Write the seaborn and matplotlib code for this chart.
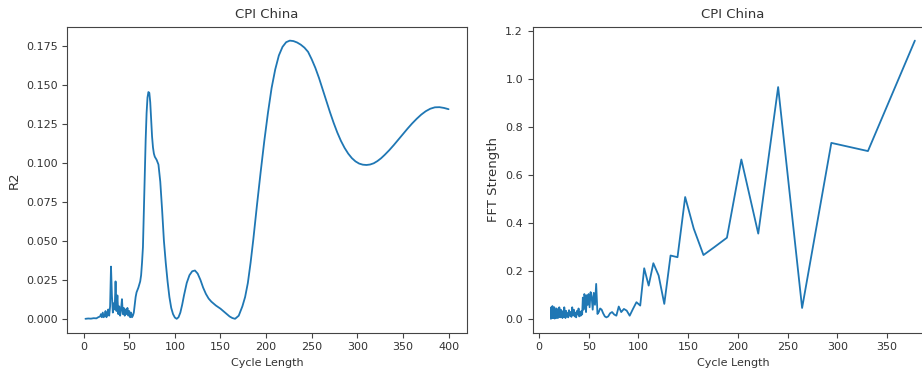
import matplotlib
matplotlib.use("Agg")
import matplotlib.pyplot as plt
import seaborn as sns
import pandas as pd

# ---------------- data: left panel (R2 vs cycle length) ----------------
r2_cycle = [2, 5, 8, 11, 14, 16, 18, 19, 20, 21, 22, 23, 24, 25, 26, 27, 28,
            29, 30, 31, 32, 33, 34, 35, 36, 37, 38, 39, 40, 41, 42, 43, 44, 45,
            46, 47, 48, 49, 50, 51, 52, 53, 54, 55, 56, 57, 58, 60, 62, 63, 64,
            65, 66, 67, 68, 69, 70, 71, 72, 73, 74, 75, 76, 77, 78, 80, 82, 84,
            86, 88, 90, 92, 94, 96, 98, 100, 102, 104, 106, 108, 110, 113, 116,
            119, 122, 125, 128, 131, 134, 137, 140, 145, 150, 155, 160, 163,
            166, 170, 174, 177, 180, 183, 186, 190, 194, 198, 202, 206, 210,
            214, 218, 222, 226, 230, 234, 238, 242, 246, 250, 254, 258, 262,
            266, 270, 274, 278, 282, 286, 290, 294, 298, 302, 306, 310, 314,
            318, 322, 326, 330, 335, 340, 345, 350, 355, 360, 365, 370, 375,
            380, 385, 390, 395, 400]
r2_value = [0.0, 0.0002, 0.0001, 0.0004, 0.0003, 0.001, 0.0015, 0.003, 0.001,
            0.004, 0.001, 0.002, 0.005, 0.001, 0.003, 0.006, 0.002,
            0.008, 0.0335, 0.015, 0.004, 0.010, 0.006, 0.024, 0.005, 0.015,
            0.003, 0.008, 0.002, 0.006, 0.0126, 0.003, 0.007, 0.002,
            0.006, 0.003, 0.007, 0.002, 0.005, 0.001, 0.004, 0.001, 0.002,
            0.004, 0.009, 0.014, 0.017, 0.020, 0.024, 0.028, 0.036,
            0.046, 0.068, 0.092, 0.115, 0.132, 0.142, 0.1455, 0.145, 0.139,
            0.128, 0.117, 0.110, 0.106, 0.104, 0.102, 0.099, 0.088,
            0.070, 0.050, 0.036, 0.024, 0.014, 0.007, 0.003, 0.0008, 0.0,
            0.001, 0.004, 0.009, 0.015, 0.023, 0.028,
            0.0305, 0.031, 0.029, 0.025, 0.020, 0.016, 0.013, 0.011, 0.0085,
            0.0065, 0.004, 0.0015, 0.0005,
            0.0, 0.002, 0.008, 0.014, 0.023, 0.036, 0.051, 0.073, 0.094,
            0.114, 0.132, 0.148, 0.160,
            0.169, 0.1745, 0.1775, 0.1785, 0.1782, 0.1773, 0.1759, 0.1740,
            0.1713, 0.1665, 0.1610, 0.1545, 0.1472,
            0.1398, 0.1326, 0.1258, 0.1196, 0.1142, 0.1097, 0.1060, 0.1031,
            0.1010, 0.0996, 0.0989, 0.0987, 0.0990,
            0.0998, 0.1012, 0.1030, 0.1052, 0.1082, 0.1115, 0.1150, 0.1185,
            0.1220, 0.1253, 0.1283, 0.1310, 0.1332,
            0.1348, 0.1357, 0.1358, 0.1353, 0.1345]

# ---------------- data: right panel (FFT strength vs cycle length) ----------------
fft_cycle = [378.0, 330.8, 294.0, 264.6, 240.5, 220.5, 203.5, 189.0, 176.4,
             165.4, 155.6, 147.0, 139.3, 132.3, 126.0, 120.3, 115.0, 110.3,
             105.8, 101.8, 98.0, 94.5, 91.2, 88.2, 85.4, 82.7, 80.2, 77.8,
             75.6, 73.5, 71.5, 69.6, 67.8, 66.2, 64.5, 63.0, 61.5, 60.1, 58.8,
             57.5, 56.3, 55.1, 54.0, 52.9, 51.9, 50.9, 49.9, 49.0, 48.1, 47.3,
             46.4, 45.6, 44.8, 44.1, 43.4, 42.7, 42.0,
             41.3, 40.5, 39.8, 39.0, 38.2, 37.4, 36.6, 35.8, 35.0, 34.2, 33.4,
             32.6, 31.8, 31.0, 30.2, 29.4, 28.7, 28.0, 27.3, 26.6, 26.0, 25.4,
             24.8, 24.2, 23.6, 23.0, 22.4, 21.9, 21.4, 20.9, 20.4, 19.9, 19.4,
             19.0, 18.5, 18.1, 17.7, 17.3, 16.9, 16.5, 16.1, 15.8, 15.4, 15.1,
             14.7, 14.4, 14.1, 13.8, 13.5, 13.2, 12.9, 12.6, 12.3, 12.0]
fft_value = [1.158, 0.699, 0.733, 0.047, 0.965, 0.356, 0.664, 0.339, 0.300,
             0.267, 0.377, 0.508, 0.258, 0.265, 0.064, 0.182, 0.233, 0.140,
             0.212, 0.057, 0.071, 0.043, 0.015, 0.036, 0.043, 0.030, 0.053, 0.015,
             0.020, 0.030, 0.025, 0.012, 0.008, 0.012, 0.025, 0.040, 0.045, 0.030,
             0.022, 0.147, 0.060, 0.110, 0.040, 0.095, 0.113, 0.050, 0.105, 0.060,
             0.100, 0.030, 0.095, 0.105, 0.040, 0.090, 0.020, 0.035, 0.015,
             0.030, 0.012, 0.045, 0.020, 0.035, 0.008, 0.028, 0.012, 0.040,
             0.018, 0.050, 0.010, 0.030, 0.015, 0.038, 0.008, 0.025, 0.012,
             0.035, 0.005, 0.030, 0.050, 0.010, 0.028, 0.005, 0.035, 0.015,
             0.040, 0.008, 0.030, 0.050, 0.010, 0.035, 0.005, 0.028, 0.012,
             0.045, 0.005, 0.030, 0.010, 0.040, 0.003, 0.050, 0.015, 0.035,
             0.005, 0.040, 0.010, 0.055, 0.005, 0.045, 0.010, 0.050, 0.002]

title_text = "CPI China"
xlabel_text = "Cycle Length"
left_ylabel = "R2"
right_ylabel = "FFT Strength"

# ---------------- figure ----------------
sns.set_style("white")
plt.rcParams['font.family'] = ['DejaVu Sans']
plt.rcParams['axes.edgecolor'] = '#444444'
plt.rcParams['axes.linewidth'] = 0.8
plt.rcParams['xtick.bottom'] = True
plt.rcParams['ytick.left'] = True
plt.rcParams['xtick.color'] = '#444444'
plt.rcParams['ytick.color'] = '#444444'
plt.rcParams['xtick.major.size'] = 3.5
plt.rcParams['ytick.major.size'] = 3.5

fig = plt.figure(figsize=(9.22, 3.72), dpi=100)
ax1 = fig.add_axes([0.0730, 0.1056, 0.4332, 0.8226])
ax2 = fig.add_axes([0.5778, 0.1056, 0.4342, 0.8226])

df_left = pd.DataFrame({"cycle": r2_cycle, "r2": r2_value})
df_right = pd.DataFrame({"cycle": fft_cycle, "fft": fft_value})

line_color = "#1f77b4"
sns.lineplot(data=df_left, x="cycle", y="r2", ax=ax1, color=line_color,
             linewidth=1.3, estimator=None, sort=False)
sns.lineplot(data=df_right, x="cycle", y="fft", ax=ax2, color=line_color,
             linewidth=1.3, estimator=None, sort=False)

for ax, yl in ((ax1, left_ylabel), (ax2, right_ylabel)):
    ax.set_title(title_text, fontsize=9.5, color='#333333')
    ax.set_xlabel(xlabel_text, fontsize=8, color='#333333')
    ax.set_ylabel(yl, fontsize=9.5, color='#333333')
    ax.tick_params(labelsize=8, labelcolor='#333333')
    for s in ax.spines.values():
        s.set_visible(True)

ax1.set_yticks([0.0, 0.025, 0.05, 0.075, 0.1, 0.125, 0.15, 0.175])
ax1.set_yticklabels(["0.000", "0.025", "0.050", "0.075", "0.100", "0.125", "0.150", "0.175"])

fig.savefig("out.png", dpi=100)
